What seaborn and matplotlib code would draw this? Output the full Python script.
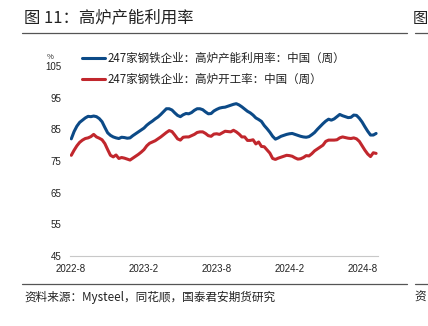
import numpy as np
import pandas as pd
import matplotlib
matplotlib.use("Agg")
import matplotlib.pyplot as plt
import matplotlib.dates as mdates
import seaborn as sns

# ---------------- data ----------------
START_DATE = "2022-08-03"
SERIES_NAMES = ["247家钢铁企业：高炉产能利用率：中国（周）",
                "247家钢铁企业：高炉开工率：中国（周）"]

capacity_util = [
    82.0, 84.3, 86.0, 87.2, 87.9, 88.6, 89.1, 89.0, 89.2, 89.0,
    88.4, 87.4, 85.6, 83.9, 83.1, 82.6, 82.3, 82.1, 82.5, 82.4,
    82.2, 82.3, 83.0, 83.6, 84.2, 84.8, 85.4, 86.3, 87.0, 87.6,
    88.3, 88.9, 89.7, 90.6, 91.5, 91.5, 91.1, 90.2, 89.4, 89.0,
    89.6, 90.0, 89.9, 90.3, 91.0, 91.5, 91.5, 91.2, 90.5, 89.9,
    90.0, 90.8, 91.3, 91.7, 91.9, 92.0, 92.3, 92.6, 92.9, 93.1,
    92.7, 92.1, 91.4, 90.7, 90.2, 89.5, 88.6, 88.1, 87.5, 86.2,
    85.2, 84.1, 82.8, 81.9, 82.3, 82.8, 83.1, 83.4, 83.6, 83.7,
    83.4, 83.1, 82.8, 82.6, 82.5, 82.7, 83.3, 84.0, 85.0, 85.9,
    86.8, 87.6, 88.2, 87.9, 88.3, 89.0, 89.7, 89.3, 89.0, 88.7,
    88.8, 89.5, 89.4, 88.5, 87.3, 85.8, 84.4, 83.2, 83.2, 83.7,
]

operating_rate = [
    76.8, 78.4, 79.8, 80.9, 81.6, 82.1, 82.3, 82.7, 83.4, 82.6,
    82.2, 81.7, 80.5, 78.6, 76.8, 76.3, 76.9, 75.8, 76.1, 75.9,
    75.6, 75.3, 75.9, 76.5, 77.1, 77.8, 78.6, 79.8, 80.6, 81.0,
    81.4, 82.0, 82.6, 83.3, 84.0, 84.6, 84.3, 83.2, 82.0, 81.6,
    82.5, 82.6, 82.6, 83.0, 83.4, 84.0, 84.2, 84.2, 83.7, 83.0,
    82.8, 83.5, 83.6, 83.4, 83.9, 84.4, 84.3, 84.2, 84.7, 84.2,
    83.5, 82.6, 82.6, 81.5, 81.5, 81.7, 80.4, 81.0, 79.6, 79.5,
    78.5, 77.5, 75.8, 75.5, 75.9, 76.2, 76.5, 76.8, 76.7, 76.5,
    76.0, 75.6, 75.7, 76.1, 76.7, 76.6, 77.3, 78.2, 78.8, 79.4,
    80.0, 81.2, 81.6, 81.6, 81.6, 81.7, 82.3, 82.6, 82.4, 82.2,
    82.1, 82.3, 82.0, 81.2, 79.8, 78.4, 77.2, 76.4, 77.6, 77.4,
]

x_tick_dates = ["2022-08-01", "2023-02-01", "2023-08-01", "2024-02-01", "2024-08-01"]
x_tick_labels = ["2022-8", "2023-2", "2023-8", "2024-2", "2024-8"]
y_ticks = [45, 55, 65, 75, 85, 95, 105]

# ---------------- style ----------------
BLUE = "#0c4a87"
RED = "#c1272d"
W, H = 428, 326

sns.set_theme(style="white")
plt.rcParams["font.family"] = ["Noto Sans CJK SC", "DejaVu Sans"]

fig = plt.figure(figsize=(W / 100, H / 100), dpi=100)
fig.patch.set_facecolor("white")

def fx(px):
    return px / W

def fy(py):
    return 1 - py / H

ax = fig.add_axes([fx(70), 70 / H, 308 / W, 190 / H])
ax.set_facecolor("none")

n = len(capacity_util)
dates = pd.date_range(START_DATE, periods=n, freq="7D")
df = pd.DataFrame({
    "date": list(dates) * 2,
    "value": capacity_util + operating_rate,
    "series": [SERIES_NAMES[0]] * n + [SERIES_NAMES[1]] * n,
})
sns.lineplot(data=df, x="date", y="value", hue="series", hue_order=SERIES_NAMES,
             palette=[BLUE, RED], linewidth=2.2, ax=ax, legend=False)

x0 = mdates.date2num(pd.Timestamp("2022-08-01")) - 1.25
ax.set_xlim(x0, x0 + 771)
ax.set_ylim(45, 105)
ax.set_xlabel("")
ax.set_ylabel("")

ax.set_xticks([mdates.date2num(pd.Timestamp(d)) for d in x_tick_dates])
ax.set_xticklabels(x_tick_labels, fontsize=7, family=["Liberation Sans"], color="#222222")
ax.set_yticks(y_ticks)
ax.set_yticklabels([str(v) for v in y_ticks], fontsize=7, family=["Liberation Sans"], color="#222222")

for s in ["top", "right", "left"]:
    ax.spines[s].set_visible(False)
ax.spines["bottom"].set_color("#c8c8c8")
ax.spines["bottom"].set_linewidth(0.8)
ax.tick_params(axis="x", direction="in", length=3, width=0.6, color="#c8c8c8", pad=5.5)
ax.tick_params(axis="y", length=0, pad=6)
ax.grid(False)

# legend
leg = ax.legend(handles=ax.lines[:2], labels=SERIES_NAMES, loc="upper left",
                bbox_to_anchor=(fx(82), fy(52)), bbox_transform=fig.transFigure,
                frameon=False, fontsize=8.3, handlelength=2.0, handletextpad=0.2,
                labelspacing=0.72, borderaxespad=0, borderpad=0)
for t in leg.get_texts():
    t.set_color("#222222")

# % unit
fig.text(fx(50), fy(57), "%", fontsize=5.5, ha="center", va="center", color="#222222")

# title and rules
fig.text(fx(24), fy(18), "图 11：高炉产能利用率", fontsize=11.8, ha="left", va="center",
         color="#222222")
fig.add_artist(plt.Line2D([fx(22), fx(407)], [fy(33), fy(33)], color="#555555", lw=0.9))
fig.add_artist(plt.Line2D([fx(22), fx(407)], [fy(284), fy(284)], color="#555555", lw=0.9))
fig.text(fx(24), fy(297), "资料来源：Mysteel，同花顺，国泰君安期货研究", fontsize=8.4,
         ha="left", va="center", color="#222222")

# neighbouring panel edge
fig.text(fx(413), fy(18), "图", fontsize=11, ha="left", va="center", color="#222222")
fig.add_artist(plt.Line2D([fx(415), fx(428)], [fy(33), fy(33)], color="#555555", lw=0.9))
fig.add_artist(plt.Line2D([fx(415), fx(428)], [fy(284), fy(284)], color="#555555", lw=0.9))
fig.text(fx(414), fy(297), "资", fontsize=8.4, ha="left", va="center", color="#222222")

fig.savefig("out.png", dpi=100, facecolor="white")
